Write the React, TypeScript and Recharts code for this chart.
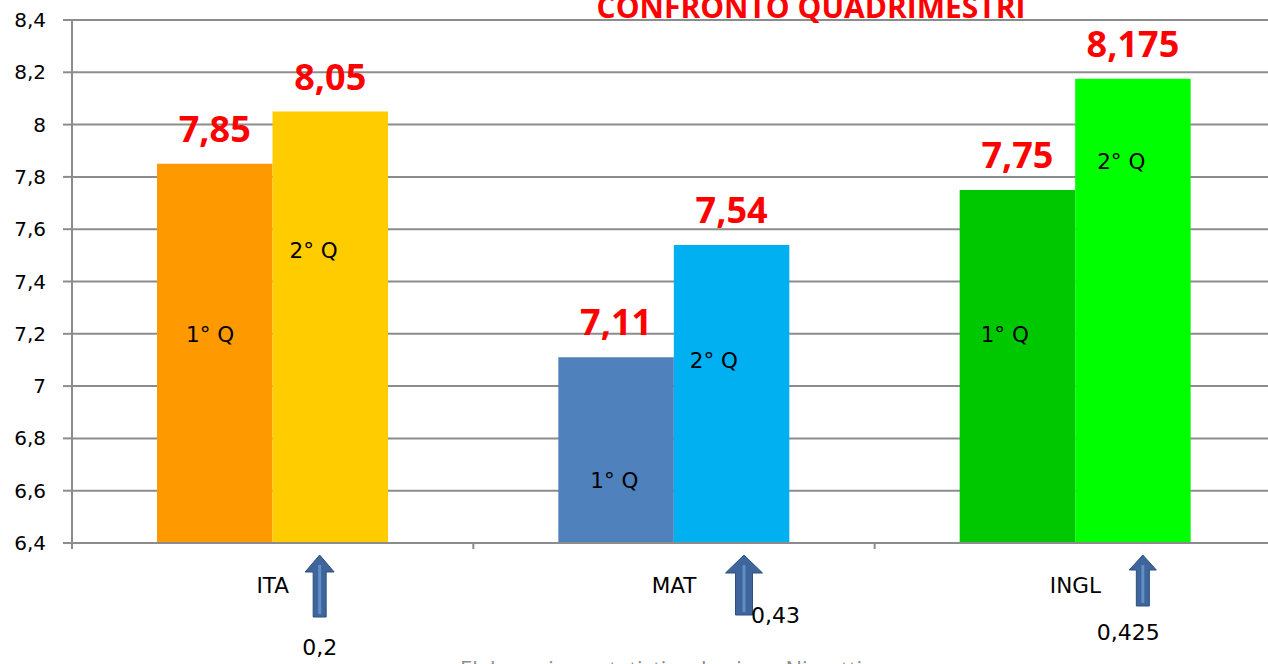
import React from 'react';
import { BarChart, Bar, XAxis, YAxis, CartesianGrid, Cell, LabelList } from 'recharts';

// ---- data ----
const categories = ['ITA', 'MAT', 'INGL'];
const q1Values = [7.85, 7.11, 7.75];
const q2Values = [8.05, 7.54, 8.175];
const diffLabels = ['0,2', '0,43', '0,425'];
const yTicks = [6.4, 6.6, 6.8, 7, 7.2, 7.4, 7.6, 7.8, 8, 8.2, 8.4];
const quarterNames = ['1° Q', '2° Q'];
const titleText = 'CONFRONTO  QUADRIMESTRI';
const footerText = 'Elaborazione statistica: Luciana Nigretti';

// ---- styles / layout ----
const q1Colors = ['#FF9900', '#4F81BD', '#00C800'];
const q2Colors = ['#FFCC00', '#00B0F0', '#00FF00'];
const GRID = '#8C8C8C';
const Y_MIN = 6.4;
// annotation anchors for the "1° Q"/"2° Q" texts: x inset in bar, vertical centre in value units
const q1Anchor = [{ dx: 29, v: 7.2 }, { dx: 32, v: 6.64 }, { dx: 21, v: 7.2 }];
const q2Anchor = [{ dx: 17, v: 7.52 }, { dx: 16, v: 7.1 }, { dx: 22, v: 7.86 }];
// arrows & difference texts under the axis (relative to category centre / axis line)
const arrowLayout = [
  { dx: 47, head: 29, shaft: 13, top: 12, headLen: 17, bottom: 74 },
  { dx: 70, head: 37, shaft: 17, top: 12, headLen: 18, bottom: 72 },
  { dx: 67.5, head: 27, shaft: 13, top: 12, headLen: 15, bottom: 63 },
];
const diffLayout = [
  { dx: 47, base: 112 },
  { dx: 101.5, base: 80 },
  { dx: 53, base: 97 },
];

const data = categories.map((c, i) => ({ cat: c, q1: q1Values[i], q2: q2Values[i] }));

const fmt = (v: number | string) => String(v).replace('.', ',');

const TopLabel = (props: any) => {
  const { x, y, width, value } = props;
  return (
    <text
      x={Number(x) + Number(width) / 2}
      y={Number(y) - 22}
      textAnchor="middle"
      fill="#FF0000"
      fontFamily="'Open Sans', sans-serif"
      fontWeight={700}
      fontSize={36}
    >
      {fmt(value)}
    </text>
  );
};

const makeQuarterLabel = (anchors: { dx: number; v: number }[], name: string) => (props: any) => {
  const { x, y, height, value, index } = props;
  const a = anchors[index ?? 0];
  if (!a) return null;
  const val = Number(value);
  const cy = Number(y) + Number(height) * ((val - a.v) / (val - Y_MIN));
  return (
    <text
      x={Number(x) + a.dx}
      y={cy + 8}
      textAnchor="start"
      fill="#000"
      fontFamily="'DejaVu Sans', sans-serif"
      fontSize={21.5}
    >
      {name}
    </text>
  );
};

const XTick = (props: any) => {
  const { x, y, payload, index } = props;
  const i = payload?.index ?? index ?? 0;
  const half = payload?.offset ? payload.offset : 200.7;
  const a = arrowLayout[i];
  const d = diffLayout[i];
  const cx = x + a.dx;
  const t = y + a.top;
  const hb = t + a.headLen;
  const b = y + a.bottom;
  const pts = [
    [cx, t],
    [cx + a.head / 2, hb],
    [cx + a.shaft / 2, hb],
    [cx + a.shaft / 2, b],
    [cx - a.shaft / 2, b],
    [cx - a.shaft / 2, hb],
    [cx - a.head / 2, hb],
  ]
    .map((p) => p.join(','))
    .join(' ');
  return (
    <g>
      <line x1={x - half} x2={x - half} y1={y} y2={y + 6} stroke={GRID} strokeWidth={2} />
      <text
        x={x}
        y={y + 50}
        textAnchor="middle"
        fill="#000"
        fontFamily="'DejaVu Sans', sans-serif"
        fontSize={21.5}
      >
        {payload.value}
      </text>
      <polygon points={pts} fill="#3E659C" stroke="#2E4F7C" strokeWidth={1} />
      <rect x={cx - 1.5} y={t + 10} width={3} height={b - t - 13} fill="#6B97D0" opacity={0.8} />
      <text
        x={x + d.dx}
        y={y + d.base}
        textAnchor="middle"
        fill="#000"
        fontFamily="'DejaVu Sans', sans-serif"
        fontSize={22}
      >
        {diffLabels[i]}
      </text>
    </g>
  );
};

const YTick = (props: any) => {
  const { x, y, payload } = props;
  return (
    <text
      x={x + 1}
      y={y + 7}
      textAnchor="end"
      fill="#000"
      fontFamily="'DejaVu Sans', sans-serif"
      fontSize={20}
    >
      {fmt(payload.value)}
    </text>
  );
};

export default function App() {
  return (
    <div
      style={{
        position: 'fixed',
        left: 0,
        top: 0,
        width: 1268,
        height: 664,
        overflow: 'hidden',
        background: '#fff',
      }}
    >
      <BarChart
        width={1280}
        height={700}
        data={data}
        margin={{ top: 20, right: 4, left: 0, bottom: 37 }}
        barGap={0}
        barSize={115.5}
      >
        <CartesianGrid vertical={false} stroke={GRID} strokeWidth={2} />
        <XAxis
          dataKey="cat"
          height={120}
          tickSize={0}
          tickMargin={0}
          tickLine={false}
          axisLine={{ stroke: GRID, strokeWidth: 2 }}
          tick={<XTick />}
          interval={0}
        />
        <YAxis
          width={72}
          domain={[6.4, 8.4]}
          ticks={yTicks}
          interval={0}
          tickSize={9}
          tickMargin={18}
          axisLine={{ stroke: GRID, strokeWidth: 2 }}
          tickLine={{ stroke: GRID, strokeWidth: 2 }}
          tick={<YTick />}
        />
        <Bar dataKey="q1" isAnimationActive={false}>
          {data.map((_, i) => (
            <Cell key={i} fill={q1Colors[i]} />
          ))}
          <LabelList dataKey="q1" content={TopLabel} />
          <LabelList dataKey="q1" content={makeQuarterLabel(q1Anchor, quarterNames[0])} />
        </Bar>
        <Bar dataKey="q2" isAnimationActive={false}>
          {data.map((_, i) => (
            <Cell key={i} fill={q2Colors[i]} />
          ))}
          <LabelList dataKey="q2" content={TopLabel} />
          <LabelList dataKey="q2" content={makeQuarterLabel(q2Anchor, quarterNames[1])} />
        </Bar>
      </BarChart>
      <svg
        width={1268}
        height={664}
        style={{ position: 'absolute', left: 0, top: 0, pointerEvents: 'none' }}
      >
        <text
          x={811}
          y={17.5}
          textAnchor="middle"
          fill="#FF0000"
          fontFamily="'Open Sans', sans-serif"
          fontWeight={700}
          fontSize={30}
        >
          {titleText}
        </text>
        <text
          x={460}
          y={677}
          textAnchor="start"
          fill="#8C8C8C"
          fontFamily="'Open Sans', sans-serif"
          fontSize={22}
        >
          {footerText}
        </text>
      </svg>
    </div>
  );
}
